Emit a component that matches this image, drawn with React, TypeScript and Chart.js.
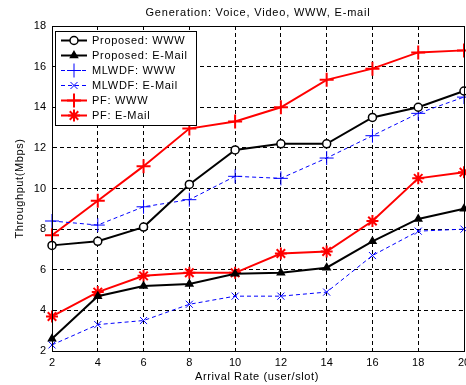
import React, { useEffect, useRef } from "react";
import { Chart, registerables } from "chart.js";
import { drawPoint } from "chart.js/helpers";

Chart.register(...registerables);

const TITLE = "Generation: Voice, Video, WWW, E-mail";
const X_TITLE = "Arrival Rate (user/slot)";
const Y_TITLE = "Throughput(Mbps)";

const arrivalRates = [2, 4, 6, 8, 10, 12, 14, 16, 18, 20];
const proposedWWW = [7.2, 7.4, 8.1, 10.2, 11.9, 12.2, 12.2, 13.5, 14.0, 14.8];
const proposedEmail = [2.6, 4.7, 5.2, 5.3, 5.8, 5.85, 6.1, 7.4, 8.5, 9.0];
const mlwdfWWW = [8.4, 8.2, 9.1, 9.45, 10.6, 10.5, 11.5, 12.6, 13.7, 14.5];
const mlwdfEmail = [2.3, 3.3, 3.5, 4.3, 4.7, 4.7, 4.9, 6.7, 7.9, 8.0];
const pfWWW = [7.7, 9.4, 11.1, 12.95, 13.3, 14.0, 15.35, 15.9, 16.7, 16.8];
const pfEmail = [3.7, 4.9, 5.7, 5.85, 5.85, 6.8, 6.9, 8.4, 10.5, 10.8];

const X_MIN = 2, X_MAX = 20, X_STEP = 2;
const Y_MIN = 2, Y_MAX = 18, Y_STEP = 2;

const FONT = "'Liberation Sans', Arial, sans-serif";

const pts = (vals: number[]) => arrivalRates.map((x, i) => ({ x, y: vals[i] }));

const textPlugin = {
  id: "customTexts",
  afterDraw(chart: any) {
    const { ctx, chartArea } = chart;
    const { left, right, top, bottom } = chartArea;
    ctx.save();
    // plot box
    ctx.setLineDash([]);
    ctx.strokeStyle = "#000";
    ctx.lineWidth = 1;
    ctx.strokeRect(Math.round(left) + 0.5, Math.round(top) + 0.5, Math.round(right - left), Math.round(bottom - top));

    ctx.fillStyle = "#000";
    ctx.font = `11px ${FONT}`;
    ctx.textBaseline = "middle";
    ctx.textAlign = "center";
    const cx = (left + right) / 2;
    (ctx as any).letterSpacing = "0.8px";
    ctx.fillText(TITLE, cx, 13);
    (ctx as any).letterSpacing = "0.6px";
    ctx.fillText(X_TITLE, cx - 1, 377);
    ctx.save();
    ctx.translate(20, (top + bottom) / 2);
    ctx.rotate(-Math.PI / 2);
    ctx.fillText(Y_TITLE, 0, 0);
    ctx.restore();

    // legend
    const bx = 55.5, by = 31.5, bw = 141, bh = 94;
    ctx.fillStyle = "#fff";
    ctx.fillRect(bx, by, bw, bh);
    ctx.strokeStyle = "#000";
    ctx.lineWidth = 1;
    ctx.strokeRect(bx, by, bw, bh);
    chart.data.datasets.forEach((ds: any, i: number) => {
      const y = 40.5 + i * 15;
      ctx.save();
      ctx.strokeStyle = ds.borderColor;
      ctx.lineWidth = ds.borderWidth;
      ctx.setLineDash(ds.borderDash || []);
      ctx.beginPath();
      ctx.moveTo(61, y);
      ctx.lineTo(87, y);
      ctx.stroke();
      ctx.setLineDash([]);
      ctx.fillStyle = ds.pointBackgroundColor;
      ctx.strokeStyle = ds.pointBorderColor;
      ctx.lineWidth = ds.pointBorderWidth;
      drawPoint(ctx, { pointStyle: ds.pointStyle, radius: ds.pointRadius, borderWidth: ds.pointBorderWidth, rotation: 0 } as any, 74, y);
      ctx.restore();
      ctx.fillStyle = "#000";
      ctx.font = `11px ${FONT}`;
      (ctx as any).letterSpacing = "0.7px";
      ctx.textAlign = "left";
      ctx.textBaseline = "middle";
      ctx.fillText(ds.label, 92, y + 0.5);
    });
    ctx.restore();
  },
};

export default function App() {
  const ref = useRef<HTMLCanvasElement>(null);
  useEffect(() => {
    const canvas = ref.current!;
    const chart = new Chart(canvas, {
      type: "line",
      data: {
        datasets: [
          {
            label: "Proposed: WWW",
            data: pts(proposedWWW),
            borderColor: "#000",
            borderWidth: 2,
            pointStyle: "circle",
            pointRadius: 4,
            pointBorderColor: "#000",
            pointBackgroundColor: "#fff",
            pointBorderWidth: 1.5,
          },
          {
            label: "Proposed: E-Mail",
            data: pts(proposedEmail),
            borderColor: "#000",
            borderWidth: 2,
            pointStyle: "triangle",
            pointRadius: 4,
            pointBorderColor: "#000",
            pointBackgroundColor: "#000",
            pointBorderWidth: 1.5,
          },
          {
            label: "MLWDF: WWW",
            data: pts(mlwdfWWW),
            borderColor: "#0000ff",
            borderWidth: 1,
            borderDash: [4, 3],
            pointStyle: "cross",
            pointRadius: 7,
            pointBorderColor: "#0000ff",
            pointBackgroundColor: "#0000ff",
            pointBorderWidth: 1,
          },
          {
            label: "MLWDF: E-Mail",
            data: pts(mlwdfEmail),
            borderColor: "#0000ff",
            borderWidth: 1,
            borderDash: [4, 3],
            pointStyle: "crossRot",
            pointRadius: 5,
            pointBorderColor: "#0000ff",
            pointBackgroundColor: "#0000ff",
            pointBorderWidth: 1,
          },
          {
            label: "PF: WWW",
            data: pts(pfWWW),
            borderColor: "#ff0000",
            borderWidth: 2,
            pointStyle: "cross",
            pointRadius: 7,
            pointBorderColor: "#ff0000",
            pointBackgroundColor: "#ff0000",
            pointBorderWidth: 2,
          },
          {
            label: "PF: E-Mail",
            data: pts(pfEmail),
            borderColor: "#ff0000",
            borderWidth: 2,
            pointStyle: "star",
            pointRadius: 6,
            pointBorderColor: "#ff0000",
            pointBackgroundColor: "#ff0000",
            pointBorderWidth: 2,
          },
        ].map((d) => ({ ...d, fill: false, tension: 0, clip: false as any })),
      },
      options: {
        responsive: false,
        animation: false,
        devicePixelRatio: 1,
        layout: { padding: { left: 0, right: 16, top: 26, bottom: 0 } },
        plugins: {
          legend: { display: false },
          title: { display: false },
          tooltip: { enabled: false },
        },
        scales: {
          x: {
            type: "linear",
            min: X_MIN,
            max: X_MAX,
            ticks: { stepSize: X_STEP, color: "#000", font: { family: FONT, size: 11 }, padding: 5, maxRotation: 0 },
            grid: { color: "#000", lineWidth: 1, drawTicks: false },
            border: { display: true, color: "#000", width: 1, dash: [4, 3] },
            afterFit: (s: any) => { s.height = 34; },
          },
          y: {
            type: "linear",
            min: Y_MIN,
            max: Y_MAX,
            ticks: { stepSize: Y_STEP, color: "#000", font: { family: FONT, size: 11 }, padding: 6 },
            grid: { color: "#000", lineWidth: 1, drawTicks: false },
            border: { display: true, color: "#000", width: 1, dash: [4, 3] },
            afterFit: (s: any) => { s.width = 52; },
          },
        },
      },
      plugins: [textPlugin],
    });
    return () => chart.destroy();
  }, []);
  return (
    <div style={{ position: "fixed", left: 0, top: 0, width: 466, height: 385, overflow: "hidden", background: "#fff" }}>
      <canvas ref={ref} width={480} height={385} style={{ display: "block", width: 480, height: 385 }} />
    </div>
  );
}
